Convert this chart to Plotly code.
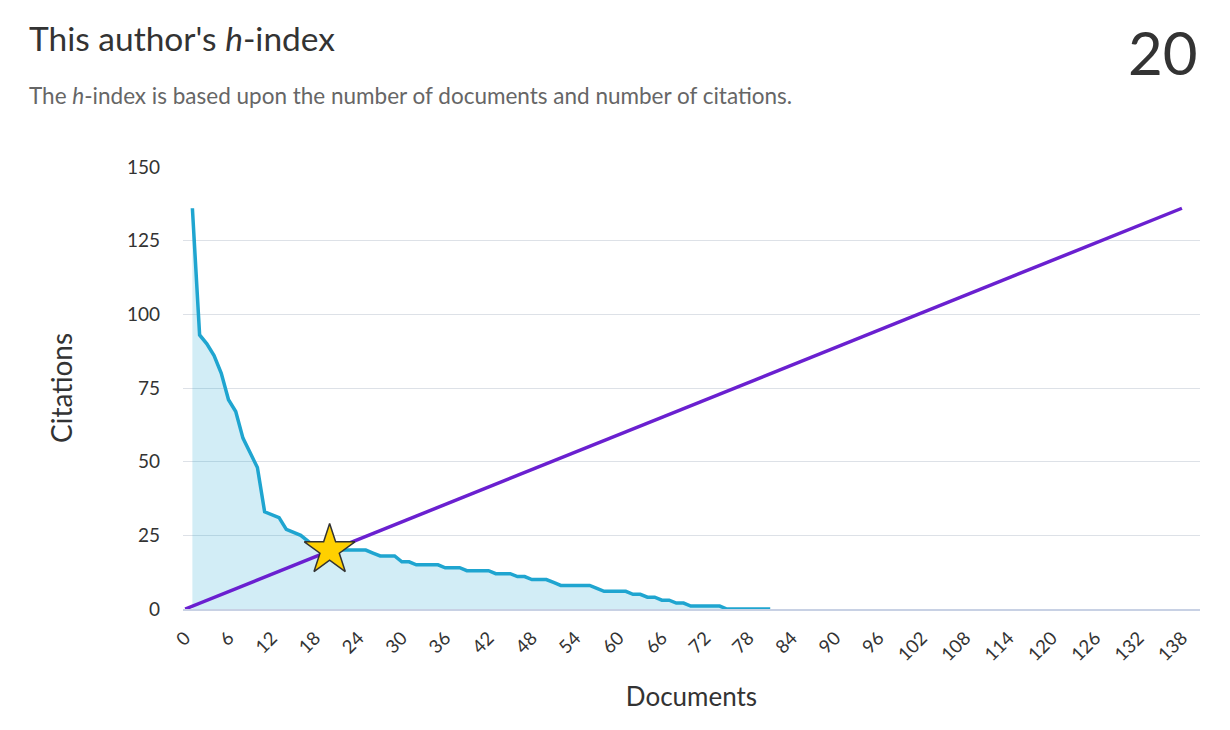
import plotly.graph_objects as go

# Citations per document, ranked (document 1..81)
citations = [136, 93, 90, 86, 80, 71, 67, 58, 53, 48,
             33, 32, 31, 27, 26, 25, 23, 21, 21, 20,
             20, 20, 20, 20, 20, 19, 18, 18, 18, 16,
             16, 15, 15, 15, 15, 14, 14, 14, 13, 13,
             13, 13, 12, 12, 12, 11, 11, 10, 10, 10,
             9, 8, 8, 8, 8, 8, 7, 6, 6, 6,
             6, 5, 5, 4, 4, 3, 3, 2, 2, 1,
             1, 1, 1, 1, 0, 0, 0, 0, 0, 0, 0]
documents = list(range(1, len(citations) + 1))

total_documents = 138
max_citations = 136
h_index = 20

x_ticks = list(range(0, 139, 6))
y_ticks = [0, 25, 50, 75, 100, 125, 150]

FONT = "Lato"
TEXT = "#333333"

fig = go.Figure()

fig.add_trace(go.Scatter(
    x=documents, y=citations, mode="lines",
    line=dict(color="#1fa5d0", width=3.5, shape="linear"),
    fill="tozeroy", fillcolor="rgba(31,165,208,0.2)",
    hoverinfo="skip", showlegend=False,
))

fig.add_trace(go.Scatter(
    x=[0, total_documents], y=[0, max_citations], mode="lines",
    line=dict(color="#6a20d0", width=3.5),
    hoverinfo="skip", showlegend=False,
))

fig.add_trace(go.Scatter(
    x=[h_index], y=[h_index], mode="markers",
    marker=dict(symbol="star", size=38, color="#ffd000",
                line=dict(color="#333333", width=1.5)),
    hoverinfo="skip", showlegend=False,
))

fig.update_layout(
    width=1230, height=730,
    margin=dict(l=183, r=30, t=167, b=121),
    paper_bgcolor="white", plot_bgcolor="white",
    font=dict(family=FONT, color=TEXT),
    xaxis=dict(
        range=[-0.3, 140.5], tickmode="array", tickvals=x_ticks,
        ticktext=[str(v) for v in x_ticks], tickangle=-45,
        tickfont=dict(size=18.5, color=TEXT, family=FONT),
        showgrid=False, zeroline=False,
        showline=True, linecolor="#c8d1e4", linewidth=2,
        ticks="", ticklabelstandoff=9,
        title=dict(text="Documents", font=dict(size=26, color=TEXT, family=FONT), standoff=24),
    ),
    yaxis=dict(
        range=[0, 150], tickmode="array", tickvals=y_ticks,
        tickfont=dict(size=19, color=TEXT, family=FONT),
        showgrid=True, gridcolor="#dde1e7", gridwidth=1.2,
        zeroline=False, showline=False, ticks="",
        ticklabelstandoff=22,
        title=dict(text="Citations", font=dict(size=28, color=TEXT, family=FONT), standoff=46),
    ),
    annotations=[
        dict(text="This author's <i>h</i>-index", x=27, y=730 - 16, showarrow=False,
             xanchor="left", yanchor="top",
             font=dict(size=33.5, color=TEXT, family=FONT)),
        dict(text="The <i>h</i>-index is based upon the number of documents and number of citations.",
             x=27, y=730 - 80, showarrow=False, xanchor="left", yanchor="top",
             font=dict(size=22.5, color="#666666", family=FONT)),
        dict(text=str(h_index), x=1200, y=730 - 14, showarrow=False, xanchor="right", yanchor="top",
             font=dict(size=60, color=TEXT, family=FONT)),
    ],
)

# place annotations in pixel space via paper coords
for a in fig.layout.annotations:
    px, py = a.x, a.y
    a.xref = "paper"
    a.yref = "paper"
    a.x = (px - 183) / (1230 - 183 - 30)
    a.y = (py - 121) / (730 - 167 - 121)

fig.write_html("out.html")
